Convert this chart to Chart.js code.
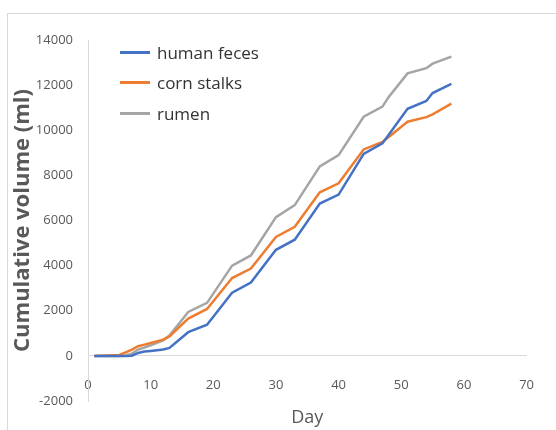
<!DOCTYPE html>
<html>
<head>
<meta charset="utf-8">
<script src="https://cdn.jsdelivr.net/npm/chart.js@4"></script>
<style>
  html, body { margin: 0; padding: 0; background: #fff; overflow: hidden; }
  #wrap { position: relative; width: 556px; height: 430px; }
  #frame { position: absolute; left: 7px; top: 13px; width: 600px; height: 500px; border: 1px solid #d9d9d9; }
  #legend { position: absolute; left: 120px; top: 37px; font-family: 'Open Sans', sans-serif; font-size: 17px; color: #333; }
  .item { height: 30.5px; display: flex; align-items: center; }
  .swatch { width: 30px; height: 3px; margin-right: 7px; }
</style>
</head>
<body>
<div id="wrap">
  <div id="frame"></div>
  <canvas id="chart"></canvas>
  <div id="legend"></div>
</div>
<script>
// ================= DATA =================
const days = [1, 3, 5, 6, 7, 8, 9, 10, 12, 13, 16, 19, 23, 26, 30, 33, 37, 40, 44, 47, 48, 51, 54, 55, 58];
const humanFeces = [0, 0, 0, 0, 10, 130, 190, 220, 280, 350, 1050, 1380, 2800, 3250, 4700, 5150, 6750, 7150, 8950, 9420, 9800, 10950, 11300, 11650, 12050];
const cornStalks = [0, 20, 40, 150, 280, 430, 500, 570, 720, 860, 1650, 2080, 3450, 3870, 5270, 5720, 7250, 7650, 9150, 9480, 9700, 10380, 10580, 10700, 11180];
const rumen = [0, 0, 0, 10, 100, 280, 370, 470, 690, 900, 1950, 2350, 4000, 4450, 6150, 6680, 8400, 8900, 10600, 11050, 11480, 12520, 12750, 12950, 13260];

const seriesNames = ["human feces", "corn stalks", "rumen"];
const seriesColors = ["#4472C4", "#ED7D31", "#A5A5A5"];
const seriesValues = [humanFeces, cornStalks, rumen];

const axisGray = "#d9d9d9";
const textGray = "#595959";
const font = "'Open Sans', sans-serif";

// ================= CHART =================
const datasets = seriesValues.map((vals, i) => ({
  label: seriesNames[i],
  data: vals.map((v, j) => ({ x: days[j], y: v })),
  borderColor: seriesColors[i],
  backgroundColor: seriesColors[i],
  borderWidth: 2.5,
  pointRadius: 0,
  fill: false,
  tension: 0
}));

const chart = new Chart(document.getElementById("chart"), {
  type: "line",
  data: { datasets },
  options: {
    responsive: true,
    maintainAspectRatio: false,
    animation: false,
    layout: { padding: { left: 0, right: 25, top: 40, bottom: 29 } },
    plugins: { legend: { display: false }, tooltip: { enabled: false } },
    scales: {
      x: {
        type: "linear",
        position: { y: 0 },
        min: 0, max: 70,
        ticks: { stepSize: 10, color: textGray, font: { family: font, size: 13 }, padding: 22, callback: v => String(v) },
        grid: { drawOnChartArea: false, drawTicks: false },
        border: { color: axisGray, width: 1 },
        title: { display: true, text: "Day", color: textGray, font: { family: font, size: 18 }, padding: { top: 0, bottom: -44 } },
        afterFit: s => { s.height = 29; }
      },
      y: {
        min: -2000, max: 14000,
        ticks: { stepSize: 2000, color: textGray, font: { family: font, size: 13 }, padding: 15, callback: v => String(v) },
        grid: { drawOnChartArea: false, drawTicks: false },
        border: { color: axisGray, width: 1 },
        title: { display: true, text: "Cumulative volume (ml)", color: textGray, font: { family: font, size: 22, weight: "bold" }, padding: { top: 10, bottom: 0 } },
        afterFit: s => { s.width = 88; }
      }
    }
  }
});

// ================= LEGEND =================
const legendDiv = document.getElementById("legend");
chart.data.datasets.forEach(ds => {
  const row = document.createElement("div");
  row.className = "item";
  row.innerHTML = `<span class="swatch" style="background:${ds.borderColor}"></span><span>${ds.label}</span>`;
  legendDiv.appendChild(row);
});
</script>
</body>
</html>
